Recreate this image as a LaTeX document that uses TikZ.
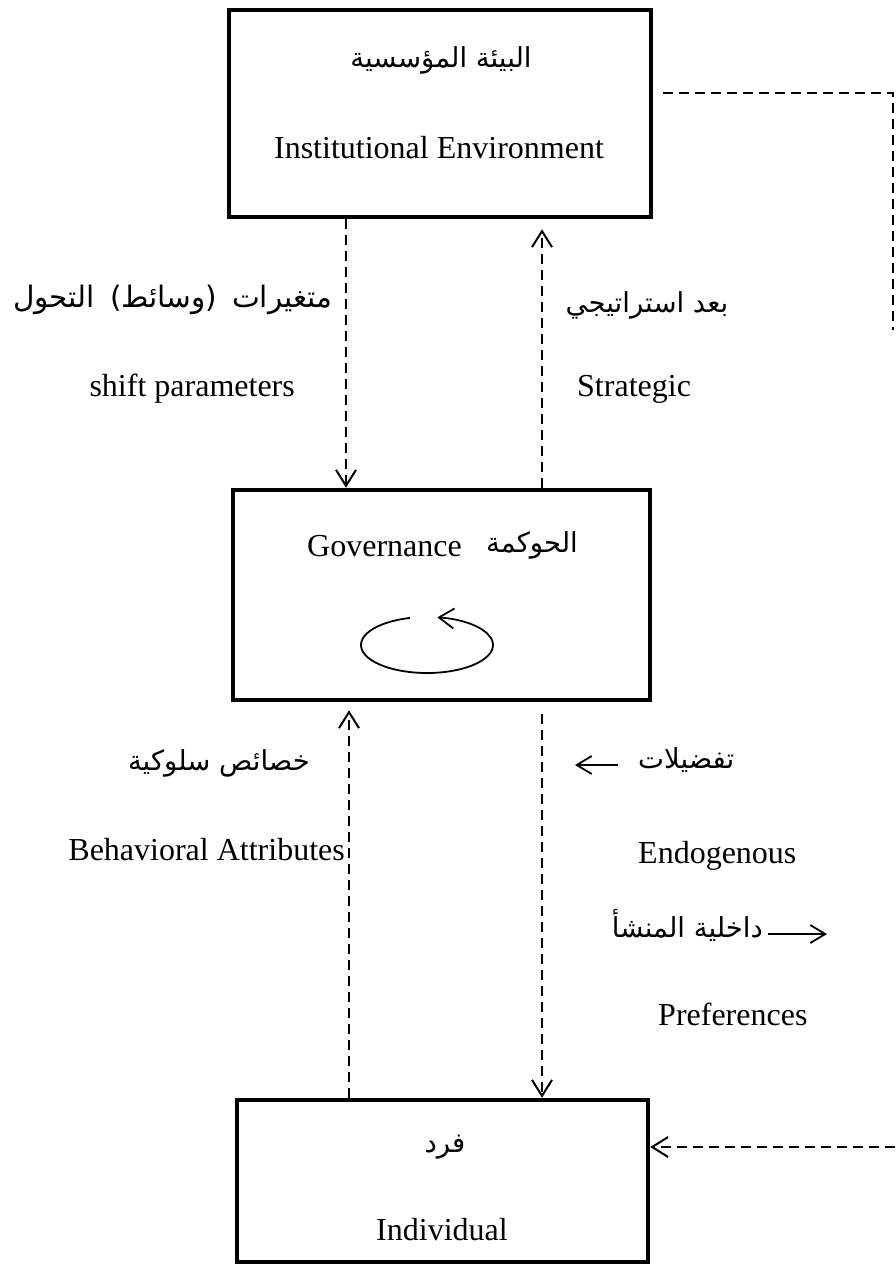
\documentclass[tikz,border=0pt]{standalone}
\usepackage{fontspec}
\setmainfont{Liberation Serif}
\newfontfamily\arabicfont[Script=Arabic]{DejaVu Sans}
\TeXXeTstate=1
\usetikzlibrary{arrows.meta}
\begin{document}
\begin{tikzpicture}[x=1pt,y=-1pt,
  box/.style={draw,line width=4.5pt,inner sep=0pt},
  dline/.style={line width=2pt,dash pattern=on 10pt off 6pt},
  dhead/.style={-{Straight Barb[length=16pt,width=20pt]}},
  sarrow/.style={line width=1.8pt,-{Straight Barb[length=15pt,width=18pt]}},
  en/.style={font=\fontsize{32}{38}\selectfont,inner sep=0pt},
  ar/.style={font=\arabicfont\fontsize{27.5}{32}\selectfont,inner sep=0pt}
]
\useasboundingbox[fill=white] (0,0) rectangle (895,1266);

% boxes
\node[box,minimum width=422pt,minimum height=207pt] (top) at (440,113.5) {};
\node[box,minimum width=417pt,minimum height=210pt] (mid) at (441.5,595) {};
\node[box,minimum width=411pt,minimum height=162pt] (bot) at (442.5,1181) {};

% box texts
\node[ar,anchor=base] (topar) at (441,67) {\beginR البيئة المؤسسية\endR};
\node[en,anchor=base] (topen) at (439,158) {Institutional Environment};
\node[en,anchor=base west] (miden) at (307,556) {Governance};
\node[ar,anchor=base] (midar) at (532,552) {\beginR الحوكمة\endR};
\node[ar,anchor=base] (botar) at (445,1152) {\beginR فرد\endR};
\node[en,anchor=base] (boten) at (442,1240) {Individual};

% loop in governance
\coordinate (ec) at (427,645);
\draw[line width=1.8pt,-{Straight Barb[length=15pt,width=20pt]}]
  ([shift={(105:66pt and 28pt)}]ec) arc[start angle=105,end angle=441,x radius=66pt,y radius=28pt];

% vertical connectors
\coordinate (xa) at (346,0);
\coordinate (xb) at (542,0);
\coordinate (xc) at (349,0);
\coordinate (xd) at (542,0);
\draw[dline,dhead] (top.south -| xa) -- (mid.north -| xa);
\draw[dline,dhead,shorten >=10pt] (mid.north -| xb) -- (top.south -| xb);
\draw[dline,dhead,shorten >=8pt] (bot.north -| xc) -- (mid.south -| xc);
\draw[dline,dhead,shorten <=12pt] (mid.south -| xd) -- (bot.north -| xd);

% right connectors
\coordinate (rc1) at (893,93);
\coordinate (rc2) at (893,330);
\coordinate (rc3) at (895,1147);
\draw[dline,shorten <=10pt] (top.east |- rc1) -- (rc1) -- (rc2);
\draw[dline,dhead] (rc3) -- (bot.east |- rc3);

% labels
\node[ar,anchor=base west,font=\arabicfont\fontsize{29.5}{34}\selectfont] (l1ar) at (13,307) {\beginR متغيرات\hspace{15pt}(وسائط)\hspace{15pt}التحول\endR};
\node[en,anchor=base east] (l1en) at (295,396) {shift parameters};
\node[ar,anchor=base] (l2ar) at (647,312) {\beginR بعد استراتيجي\endR};
\node[en,anchor=base west] (l2en) at (577,396) {Strategic};
\node[ar,anchor=base east] (l3ar) at (310,770) {\beginR خصائص سلوكية\endR};
\node[en,anchor=base east] (l3en) at (345,860) {Behavioral Attributes};
\node[ar,anchor=base west] (l4ar) at (638,768) {\beginR تفضيلات\endR};
\node[en,anchor=base west] (l4en) at (638,863) {Endogenous};
\node[ar,anchor=base east] (l5ar) at (763,937) {\beginR داخلية المنشأ\endR};
\node[en,anchor=base west] (l5en) at (658,1025) {Preferences};

% small text arrows
\coordinate (s1a) at (618,765);
\coordinate (s1b) at (575,765);
\draw[sarrow] (s1a) -- (s1b);
\coordinate (s2a) at (768,934);
\coordinate (s2b) at (827,934);
\draw[sarrow] (s2a) -- (s2b);
\end{tikzpicture}
\end{document}
